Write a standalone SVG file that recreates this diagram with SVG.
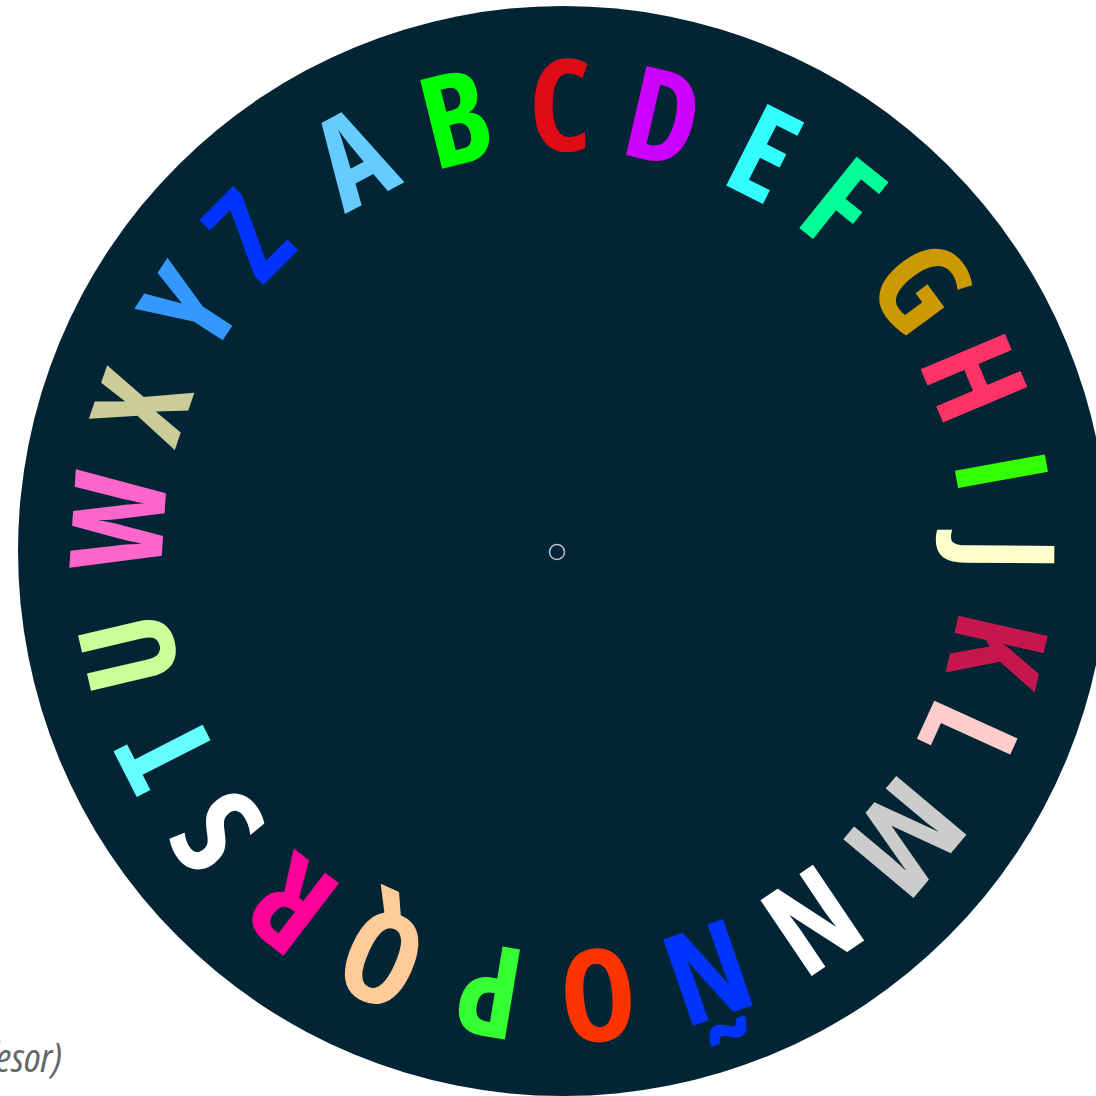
<svg xmlns="http://www.w3.org/2000/svg" width="1096" height="1096" viewBox="0 0 1096 1096">
<style>
.l{font-family:"Open Sans","DejaVu Sans",sans-serif;font-weight:700;font-stretch:condensed;font-size:128px;text-anchor:middle}
.cap{font-family:"Open Sans","Liberation Sans",sans-serif;font-style:italic;font-stretch:semi-condensed;font-size:41px;fill:#666666;text-anchor:end}
</style>
<rect width="1096" height="1096" fill="#ffffff"/>
<g id="disc">
<circle cx="563" cy="551" r="545" fill="#022535"/>
<circle cx="557" cy="552" r="7.5" fill="none" stroke="#b8c2c8" stroke-width="1.5"/>
</g>
<g id="letters">
<g id="letter-A"><text class="l" fill="#66CCFF" x="563" y="151" transform="rotate(-28.1 563 551)">A</text></g>
<g id="letter-B"><text class="l" fill="#00FF00" x="563" y="151" transform="rotate(-13.9 563 551)">B</text></g>
<g id="letter-C"><text class="l" fill="#E00A14" x="563" y="151" transform="rotate(-0.4 563 551)">C</text></g>
<g id="letter-D"><text class="l" fill="#CC00FF" x="563" y="151" transform="rotate(13 563 551)">D</text></g>
<g id="letter-E"><text class="l" fill="#33FFFF" x="563" y="151" transform="rotate(26.8 563 551)">E</text></g>
<g id="letter-F"><text class="l" fill="#00FF99" x="563" y="151" transform="rotate(38.8 563 551)">F</text></g>
<g id="letter-G"><text class="l" fill="#CC9900" x="563" y="151" transform="rotate(53.6 563 551)">G</text></g>
<g id="letter-H"><text class="l" fill="#FF3366" x="563" y="151" transform="rotate(67.2 563 551)">H</text></g>
<g id="letter-I"><text class="l" fill="#33FF00" x="563" y="151" transform="rotate(79.7 563 551)">I</text></g>
<g id="letter-J"><text class="l" fill="#FFFFCC" x="563" y="151" transform="rotate(90.4 563 551)">J</text></g>
<g id="letter-K"><text class="l" fill="#C5174D" x="563" y="151" transform="rotate(102.8 563 551)">K</text></g>
<g id="letter-L"><text class="l" fill="#FFCCCC" x="563" y="151" transform="rotate(114.5 563 551)">L</text></g>
<g id="letter-M"><text class="l" fill="#CCCCCC" x="563" y="151" transform="rotate(129.9 563 551)">M</text></g>
<g id="letter-N"><text class="l" fill="#FFFFFF" x="563" y="151" transform="rotate(146 563 551)">N</text></g>
<g id="letter-NN"><text class="l" fill="#0033FF" x="563" y="151" transform="rotate(161 563 551)">Ñ</text></g>
<g id="letter-O"><text class="l" fill="#FF3300" x="563" y="151" transform="rotate(175.5 563 551)">O</text></g>
<g id="letter-P"><text class="l" fill="#33FF33" x="563" y="151" transform="rotate(189.5 563 551)">P</text></g>
<g id="letter-Q"><text class="l" fill="#FFCC99" x="563" y="151" transform="rotate(204 563 551)">Q</text></g>
<g id="letter-R"><text class="l" fill="#FF0099" x="563" y="151" transform="rotate(217.5 563 551)">R</text></g>
<g id="letter-S"><text class="l" fill="#FFFFFF" x="563" y="151" transform="rotate(231 563 551)">S</text></g>
<g id="letter-T"><text class="l" fill="#66FFFF" x="563" y="151" transform="rotate(243 563 551)">T</text></g>
<g id="letter-U"><text class="l" fill="#CCFF99" x="563" y="151" transform="rotate(256.8 563 551)">U</text></g>
<g id="letter-W"><text class="l" fill="#FF66CC" x="563" y="151" transform="rotate(273.8 563 551)">W</text></g>
<g id="letter-X"><text class="l" fill="#CCCC99" x="563" y="151" transform="rotate(288.9 563 551)">X</text></g>
<g id="letter-Y"><text class="l" fill="#3399FF" x="563" y="151" transform="rotate(303 563 551)">Y</text></g>
<g id="letter-Z"><text class="l" fill="#0033FF" x="563" y="151" transform="rotate(315.1 563 551)">Z</text></g>
</g>
<g id="caption"><text class="cap" x="62" y="1072">(profesor)</text></g>
</svg>
